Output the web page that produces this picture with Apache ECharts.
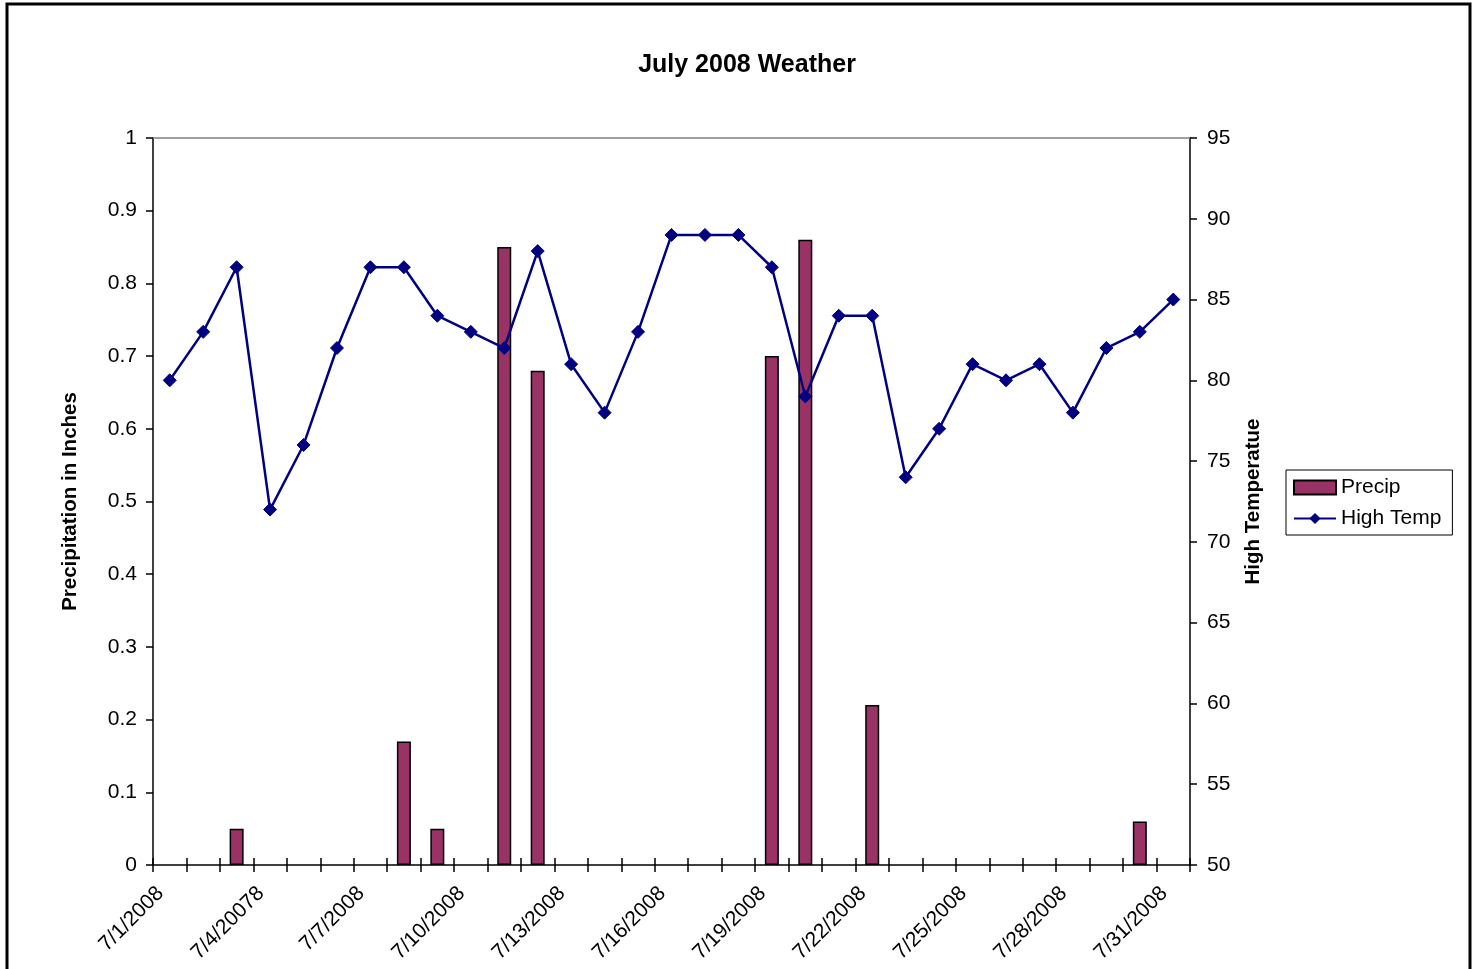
<!DOCTYPE html>
<html>
<head>
<meta charset="utf-8">
<style>
  html, body { margin: 0; padding: 0; background: #fff; }
  #chart { width: 1478px; height: 969px; }
</style>
<script src="https://cdn.jsdelivr.net/npm/echarts@6/dist/echarts.min.js"></script>
</head>
<body>
<div id="chart"></div>
<script>
// Daily categories for July 2008 (the 7/4 label is spelled as it appears on the chart)
const days = [
  '7/1/2008', '7/2/2008', '7/3/2008', '7/4/20078', '7/5/2008', '7/6/2008', '7/7/2008',
  '7/8/2008', '7/9/2008', '7/10/2008', '7/11/2008', '7/12/2008', '7/13/2008', '7/14/2008',
  '7/15/2008', '7/16/2008', '7/17/2008', '7/18/2008', '7/19/2008', '7/20/2008', '7/21/2008',
  '7/22/2008', '7/23/2008', '7/24/2008', '7/25/2008', '7/26/2008', '7/27/2008', '7/28/2008',
  '7/29/2008', '7/30/2008', '7/31/2008'
];

// Precipitation in inches per day
const precip = [
  0, 0, 0.05, 0, 0, 0, 0,
  0.17, 0.05, 0, 0.85, 0.68, 0, 0,
  0, 0, 0, 0, 0.70, 0.86, 0,
  0.22, 0, 0, 0, 0, 0, 0,
  0, 0.06, 0
];

// Daily high temperature
const highTemp = [
  80, 83, 87, 72, 76, 82, 87,
  87, 84, 83, 82, 88, 81, 78,
  83, 89, 89, 89, 87, 79, 84,
  84, 74, 77, 81, 80, 81, 78,
  82, 83, 85
];

const FONT = '"Liberation Sans", Arial, sans-serif';

// Dry days get no bar at all (a zero-height bar would still stroke its border)
const precipBars = precip.map(v => (v === 0 ? '-' : v));

const chart = echarts.init(document.getElementById('chart'), null, { renderer: 'canvas' });

chart.setOption({
  animation: false,
  backgroundColor: '#ffffff',
  textStyle: { fontFamily: FONT, color: '#000' },
  title: {
    text: 'July 2008 Weather',
    left: 742,
    top: 48,
    textAlign: 'center',
    textStyle: { fontFamily: FONT, fontSize: 25, fontWeight: 'bold', color: '#000' }
  },
  legend: {
    orient: 'vertical',
    left: 1286,
    top: 470,
    padding: [7, 11, 6, 7],
    itemGap: 10,
    itemWidth: 42,
    itemHeight: 14,
    borderColor: '#000',
    borderWidth: 1,
    textStyle: { fontFamily: FONT, fontSize: 21, color: '#000' },
    data: [
      { name: 'Precip', icon: 'rect' },
      { name: 'High Temp' }
    ]
  },
  grid: { left: 153, right: 288, top: 138, bottom: 104, containLabel: false },
  xAxis: [
    {
      type: 'category',
      data: days,
      position: 'bottom',
      boundaryGap: true,
      axisLine: { show: true, lineStyle: { color: '#000', width: 1.5 } },
      axisTick: { show: true, interval: 0, inside: false, length: 7, lineStyle: { color: '#000', width: 1.5 } },
      axisLabel: {
        interval: 2,
        rotate: 45,
        margin: 16,
        padding: [0, 13, 0, 0],
        fontFamily: FONT,
        fontSize: 21,
        color: '#000'
      },
      splitLine: { show: false }
    },
    {
      type: 'category',
      data: days,
      position: 'bottom',
      boundaryGap: true,
      axisLine: { show: false },
      axisTick: { show: true, interval: 0, inside: true, length: 7, lineStyle: { color: '#000', width: 1.5 } },
      axisLabel: { show: false },
      splitLine: { show: false }
    },
    {
      type: 'category',
      data: days,
      position: 'top',
      axisLine: { show: true, lineStyle: { color: '#808080', width: 1.5 } },
      axisTick: { show: false },
      axisLabel: { show: false },
      splitLine: { show: false }
    }
  ],
  yAxis: [
    {
      type: 'value',
      position: 'left',
      min: 0,
      max: 1,
      interval: 0.1,
      name: 'Precipitation in Inches',
      nameLocation: 'middle',
      nameRotate: 90,
      nameGap: 72,
      nameTextStyle: { fontFamily: FONT, fontSize: 20.5, fontWeight: 'bold', color: '#000' },
      axisLine: { show: true, lineStyle: { color: '#000', width: 1.5 } },
      axisTick: { show: true, length: 7, lineStyle: { color: '#000', width: 1.5 } },
      axisLabel: { fontFamily: FONT, fontSize: 21, color: '#000', margin: 16 },
      splitLine: { show: false }
    },
    {
      type: 'value',
      position: 'right',
      min: 50,
      max: 95,
      interval: 5,
      name: 'High Temperatue',
      nameLocation: 'middle',
      nameRotate: 90,
      nameGap: 53,
      nameTextStyle: { fontFamily: FONT, fontSize: 20.5, fontWeight: 'bold', color: '#000' },
      axisLine: { show: true, lineStyle: { color: '#000', width: 1.5 } },
      axisTick: { show: true, length: 7, lineStyle: { color: '#000', width: 1.5 } },
      axisLabel: { fontFamily: FONT, fontSize: 21, color: '#000', margin: 17 },
      splitLine: { show: false }
    }
  ],
  series: [
    {
      name: 'Precip',
      type: 'bar',
      xAxisIndex: 0,
      yAxisIndex: 0,
      data: precipBars,
      barWidth: 14,
      itemStyle: { color: '#993366', borderColor: '#000', borderWidth: 1.5 },
      z: 2
    },
    {
      name: 'High Temp',
      type: 'line',
      xAxisIndex: 0,
      yAxisIndex: 1,
      data: highTemp,
      symbol: 'diamond',
      symbolSize: 13,
      showAllSymbol: true,
      lineStyle: { color: '#000080', width: 2.5 },
      itemStyle: { color: '#000080', borderColor: '#000080' },
      z: 3
    }
  ],
  graphic: [
    {
      type: 'rect',
      silent: true,
      shape: { x: 7, y: 4, width: 1463, height: 1000 },
      style: { fill: 'none', stroke: '#000', lineWidth: 3 }
    }
  ]
});
</script>
</body>
</html>
